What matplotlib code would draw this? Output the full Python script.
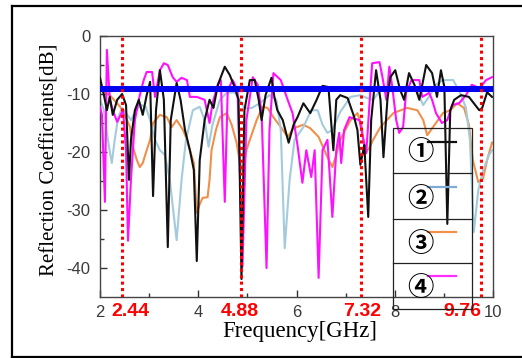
import matplotlib
matplotlib.use('Agg')
import matplotlib.pyplot as plt
from matplotlib.lines import Line2D
from matplotlib.patches import Rectangle

plt.rcParams['axes.unicode_minus'] = False

# curve 1 (black)
f1 = [2.00, 2.08, 2.14, 2.20, 2.26, 2.35, 2.45, 2.53, 2.59, 2.63, 2.71, 2.79, 2.87, 2.95, 3.02,
      3.08, 3.14, 3.22, 3.30, 3.38, 3.44, 3.56, 3.64, 3.73, 3.83, 3.91, 3.97, 4.03, 4.13, 4.23,
      4.31, 4.40, 4.54, 4.64, 4.74, 4.82, 4.88, 4.94, 5.05, 5.15, 5.23, 5.29, 5.37, 5.49, 5.55,
      5.61, 5.72, 5.84, 5.94, 6.02, 6.14, 6.28, 6.41, 6.53, 6.65, 6.75, 6.81, 6.89, 7.04, 7.16,
      7.24, 7.30, 7.38, 7.46, 7.52, 7.62, 7.71, 7.77, 7.85, 7.91, 8.01, 8.11, 8.19, 8.29, 8.40,
      8.50, 8.64, 8.76, 8.86, 8.94, 9.01, 9.07, 9.13, 9.21, 9.35, 9.51, 9.72, 9.78, 9.88, 9.98]
s1 = [-7.2, -10.2, -12.8, -10.5, -13.6, -11.0, -10.0, -11.9, -24.8, -17.9, -12.8, -11.0, -13.6, -10.2, -7.9,
      -27.6, -12.8, -5.9, -11.0, -36.4, -14.5, -8.1, -11.0, -16.2, -19.7, -23.1, -38.8, -21.4, -14.5, -11.0,
      -12.4, -8.4, -5.3, -6.7, -8.8, -11.0, -41.9, -12.8, -7.6, -7.6, -11.0, -14.5, -10.2, -7.2, -10.5,
      -12.8, -14.5, -18.4, -15.3, -14.0, -11.6, -13.3, -11.0, -8.6, -8.8, -19.7, -11.0, -10.2, -10.7, -13.6,
      -16.2, -22.2, -18.8, -31.2, -14.5, -5.9, -11.0, -20.9, -11.0, -7.1, -5.9, -9.3, -11.0, -6.4, -8.4,
      -11.0, -5.0, -6.4, -10.5, -5.9, -8.8, -32.4, -12.8, -11.0, -10.2, -10.5, -12.8, -12.4, -9.7, -10.5]

# curve 2 (light blue)
f2 = [2.00, 2.08, 2.16, 2.24, 2.30, 2.37, 2.45, 2.53, 2.63, 2.73, 2.83, 2.93, 3.02, 3.12, 3.22,
      3.32, 3.42, 3.56, 3.66, 3.75, 3.89, 4.03, 4.13, 4.21, 4.29, 4.44, 4.58, 4.74, 4.84, 4.94,
      5.09, 5.25, 5.45, 5.59, 5.68, 5.76, 5.86, 5.96, 6.14, 6.30, 6.43, 6.53, 6.63, 6.73, 6.89,
      7.10, 7.30, 7.44, 7.56, 7.71, 7.85, 8.11, 8.36, 8.46, 8.58, 8.72, 8.84, 8.98, 9.19, 9.33,
      9.45, 9.53, 9.61, 9.70, 9.80, 9.92, 9.98]
s2 = [-11.0, -12.8, -17.9, -21.9, -17.9, -14.0, -12.4, -13.3, -14.5, -12.8, -11.9, -12.2, -14.5, -17.9, -19.7,
      -20.5, -24.8, -35.2, -24.8, -17.9, -12.8, -12.2, -14.5, -19.1, -15.3, -11.0, -9.8, -9.7, -11.0, -12.4,
      -12.4, -11.6, -10.2, -11.0, -16.2, -36.6, -24.8, -17.9, -15.7, -12.8, -12.8, -15.3, -16.7, -16.2, -13.1,
      -10.5, -10.2, -10.7, -11.0, -9.3, -9.0, -9.3, -9.0, -9.7, -11.9, -10.2, -8.4, -7.6, -7.6, -9.8,
      -12.4, -17.9, -33.8, -26.6, -23.1, -20.5, -19.7]

# curve 3 (orange)
f3 = [2.00, 2.20, 2.41, 2.53, 2.61, 2.67, 2.75, 2.81, 2.87, 2.95, 3.02, 3.08, 3.22, 3.36, 3.46,
      3.56, 3.69, 3.77, 3.83, 3.91, 3.97, 4.03, 4.09, 4.19, 4.23, 4.27, 4.36, 4.44, 4.58, 4.68,
      4.78, 4.84, 4.90, 4.98, 5.05, 5.19, 5.31, 5.41, 5.53, 5.68, 5.82, 5.94, 6.14, 6.28, 6.45,
      6.63, 6.73, 6.81, 6.89, 7.10, 7.24, 7.32, 7.40, 7.48, 7.56, 7.71, 7.97, 8.25, 8.46, 8.58,
      8.66, 8.78, 8.98, 9.13, 9.27, 9.41, 9.51, 9.59, 9.70, 9.80, 9.88, 9.98]
s3 = [-9.3, -10.2, -12.2, -14.1, -15.7, -19.1, -21.4, -22.6, -21.9, -19.7, -17.9, -15.0, -13.6, -14.0, -15.7,
      -14.5, -16.2, -17.9, -19.7, -21.9, -30.5, -29.0, -27.9, -27.8, -24.8, -19.7, -16.2, -14.0, -13.3, -15.3,
      -18.4, -21.4, -23.4, -19.7, -17.9, -14.5, -12.2, -12.4, -14.0, -15.7, -17.4, -15.9, -15.3, -15.9, -17.4,
      -20.9, -22.6, -20.5, -17.9, -14.5, -13.3, -15.3, -20.2, -19.3, -17.9, -15.7, -13.3, -12.4, -12.8, -14.5,
      -17.1, -15.7, -13.3, -12.8, -11.6, -12.4, -15.3, -21.4, -25.2, -24.5, -21.4, -18.4]

# curve 4 (magenta)
f4 = [2.00, 2.04, 2.10, 2.14, 2.20, 2.26, 2.35, 2.47, 2.53, 2.57, 2.63, 2.71, 2.81, 2.89, 2.95,
      3.06, 3.12, 3.22, 3.30, 3.38, 3.48, 3.56, 3.66, 3.77, 3.83, 3.97, 4.13, 4.23, 4.29, 4.40,
      4.46, 4.54, 4.60, 4.70, 4.80, 4.90, 4.98, 5.11, 5.21, 5.29, 5.39, 5.45, 5.53, 5.68, 5.82,
      5.92, 6.02, 6.12, 6.20, 6.30, 6.37, 6.45, 6.53, 6.63, 6.73, 6.81, 6.87, 6.91, 6.97, 7.08,
      7.28, 7.42, 7.54, 7.69, 7.75, 7.83, 7.89, 7.95, 8.03, 8.09, 8.17, 8.23, 8.34, 8.50, 8.56,
      8.70, 8.76, 8.84, 8.96, 9.07, 9.17, 9.31, 9.45, 9.57, 9.72, 9.86, 9.98]
s4 = [-12.2, -13.6, -28.6, -2.4, -11.0, -12.8, -14.8, -12.8, -19.7, -35.3, -24.8, -14.5, -10.2, -7.6, -6.2,
      -6.2, -10.5, -5.9, -4.7, -5.0, -7.1, -7.9, -7.2, -7.6, -10.5, -10.5, -11.0, -15.0, -11.6, -8.4,
      -7.6, -28.6, -9.3, -7.6, -9.3, -39.8, -14.5, -7.1, -8.4, -13.3, -40.0, -16.2, -6.4, -7.6, -11.0,
      -13.3, -18.8, -25.3, -19.7, -24.3, -19.7, -41.7, -19.7, -17.9, -31.2, -19.7, -16.7, -21.9, -16.2, -14.0,
      -14.5, -20.2, -4.7, -4.5, -7.1, -11.0, -5.3, -8.8, -14.5, -16.7, -15.7, -9.8, -7.6, -7.6, -10.5,
      -9.8, -11.0, -13.3, -15.0, -14.5, -11.9, -11.6, -10.2, -8.4, -9.0, -7.6, -7.1]

marker_freqs = [2.44, 4.88, 7.32, 9.76]
marker_labels = ['2.44', '4.88', '7.32', '9.76']
marker_label_x = [2.62, 4.84, 7.34, 9.37]
threshold = -9.2
legend_labels = ['\u2460', '\u2461', '\u2462', '\u2463']

W, H = 522, 358


def fp(x, y):
    # pixel position -> figure fraction
    return x / W, 1 - y / H


fig = plt.figure(figsize=(W / 100, H / 100), dpi=100)
ax = fig.add_axes([100 / W, 1 - 297 / H, 393 / W, 261 / H])

ax.plot(f3, s3, color='#f0904a', lw=1.5, zorder=2)
ax.plot(f2, s2, color='#a3cbdc', lw=1.5, zorder=2)
ax.plot(f4, s4, color='#ff10ff', lw=1.5, zorder=3)
ax.plot(f1, s1, color='#111111', lw=1.5, zorder=3)
ax.axhline(threshold, color='#0000f0', lw=4.3, zorder=4)
for f in marker_freqs:
    ax.axvline(f, color='red', lw=2.2, ls=(0, (1, 1.1)), zorder=5)

ax.set_xlim(2, 10)
ax.set_ylim(-45, 0)
ax.set_xticks([2, 4, 6, 8, 10])
ax.set_xticks([3, 5, 7, 9], minor=True)
ax.set_yticks([0, -10, -20, -30, -40])
ax.set_yticks([-5, -15, -25, -35], minor=True)
ax.tick_params(which='both', direction='in', colors='#333333', labelcolor='#3a3a3a', labelsize=12)
ax.tick_params(which='major', length=5, width=1)
ax.tick_params(which='minor', length=3, width=1)
ax.tick_params(axis='x', pad=6)
ax.tick_params(axis='y', pad=7)
for lbl in ax.get_xticklabels() + ax.get_yticklabels():
    lbl.set_family('Liberation Sans')
for sp in ax.spines.values():
    sp.set_color('#444444')
    sp.set_linewidth(1.0)

for lab, lx in zip(marker_labels, marker_label_x):
    ax.text(lx, -0.057, lab, transform=ax.get_xaxis_transform(), color='red',
            fontsize=14, fontweight='bold', ha='center', va='center',
            family='Liberation Sans')

fig.text(*fp(300, 332), 'Frequency[GHz]', family='Liberation Serif', fontsize=16.5,
         ha='center', va='center')
fig.text(*fp(50, 160), 'Reflection Coefficients[dB]', family='Liberation Serif',
         fontsize=15, rotation=90, ha='center', va='center')

# outer frame
for (x0, y0), (x1, y1) in [((12, 6), (522, 6)), ((12, 6), (12, 357)), ((12, 357), (522, 357))]:
    a, b = fp(x0, y0)
    c, d = fp(x1, y1)
    fig.add_artist(Line2D([a, c], [b, d], color='black', lw=1.6))

# legend table
lx0, ly0 = fp(393, 309)
lx1, ly1 = fp(472, 128)
fig.add_artist(Rectangle((lx0, ly0), lx1 - lx0, ly1 - ly0, fill=False,
                         edgecolor='#222222', lw=0.9, zorder=6))
for ry in [173, 219, 263]:
    a, b = fp(393, ry)
    c, _ = fp(472, ry)
    fig.add_artist(Line2D([a, c], [b, b], color='#222222', lw=0.9, zorder=6))
sample_colors = ['#111111', '#7fa9d6', '#f0904a', '#ff30ff']
rows_text_y = [153, 199, 244, 289]
rows_line_y = [142, 187, 232, 276]
for lab, c, ty, ly in zip(legend_labels, sample_colors, rows_text_y, rows_line_y):
    fig.text(*fp(420, ty), lab, family=['Noto Sans CJK JP', 'DejaVu Sans'], fontsize=19,
             fontweight='bold', ha='center', va='center', zorder=7)
    a, b = fp(428, ly)
    c2, _ = fp(456, ly)
    fig.add_artist(Line2D([a, c2], [b, b], color=c, lw=1.6, zorder=7))

fig.savefig('out.png', dpi=100)
